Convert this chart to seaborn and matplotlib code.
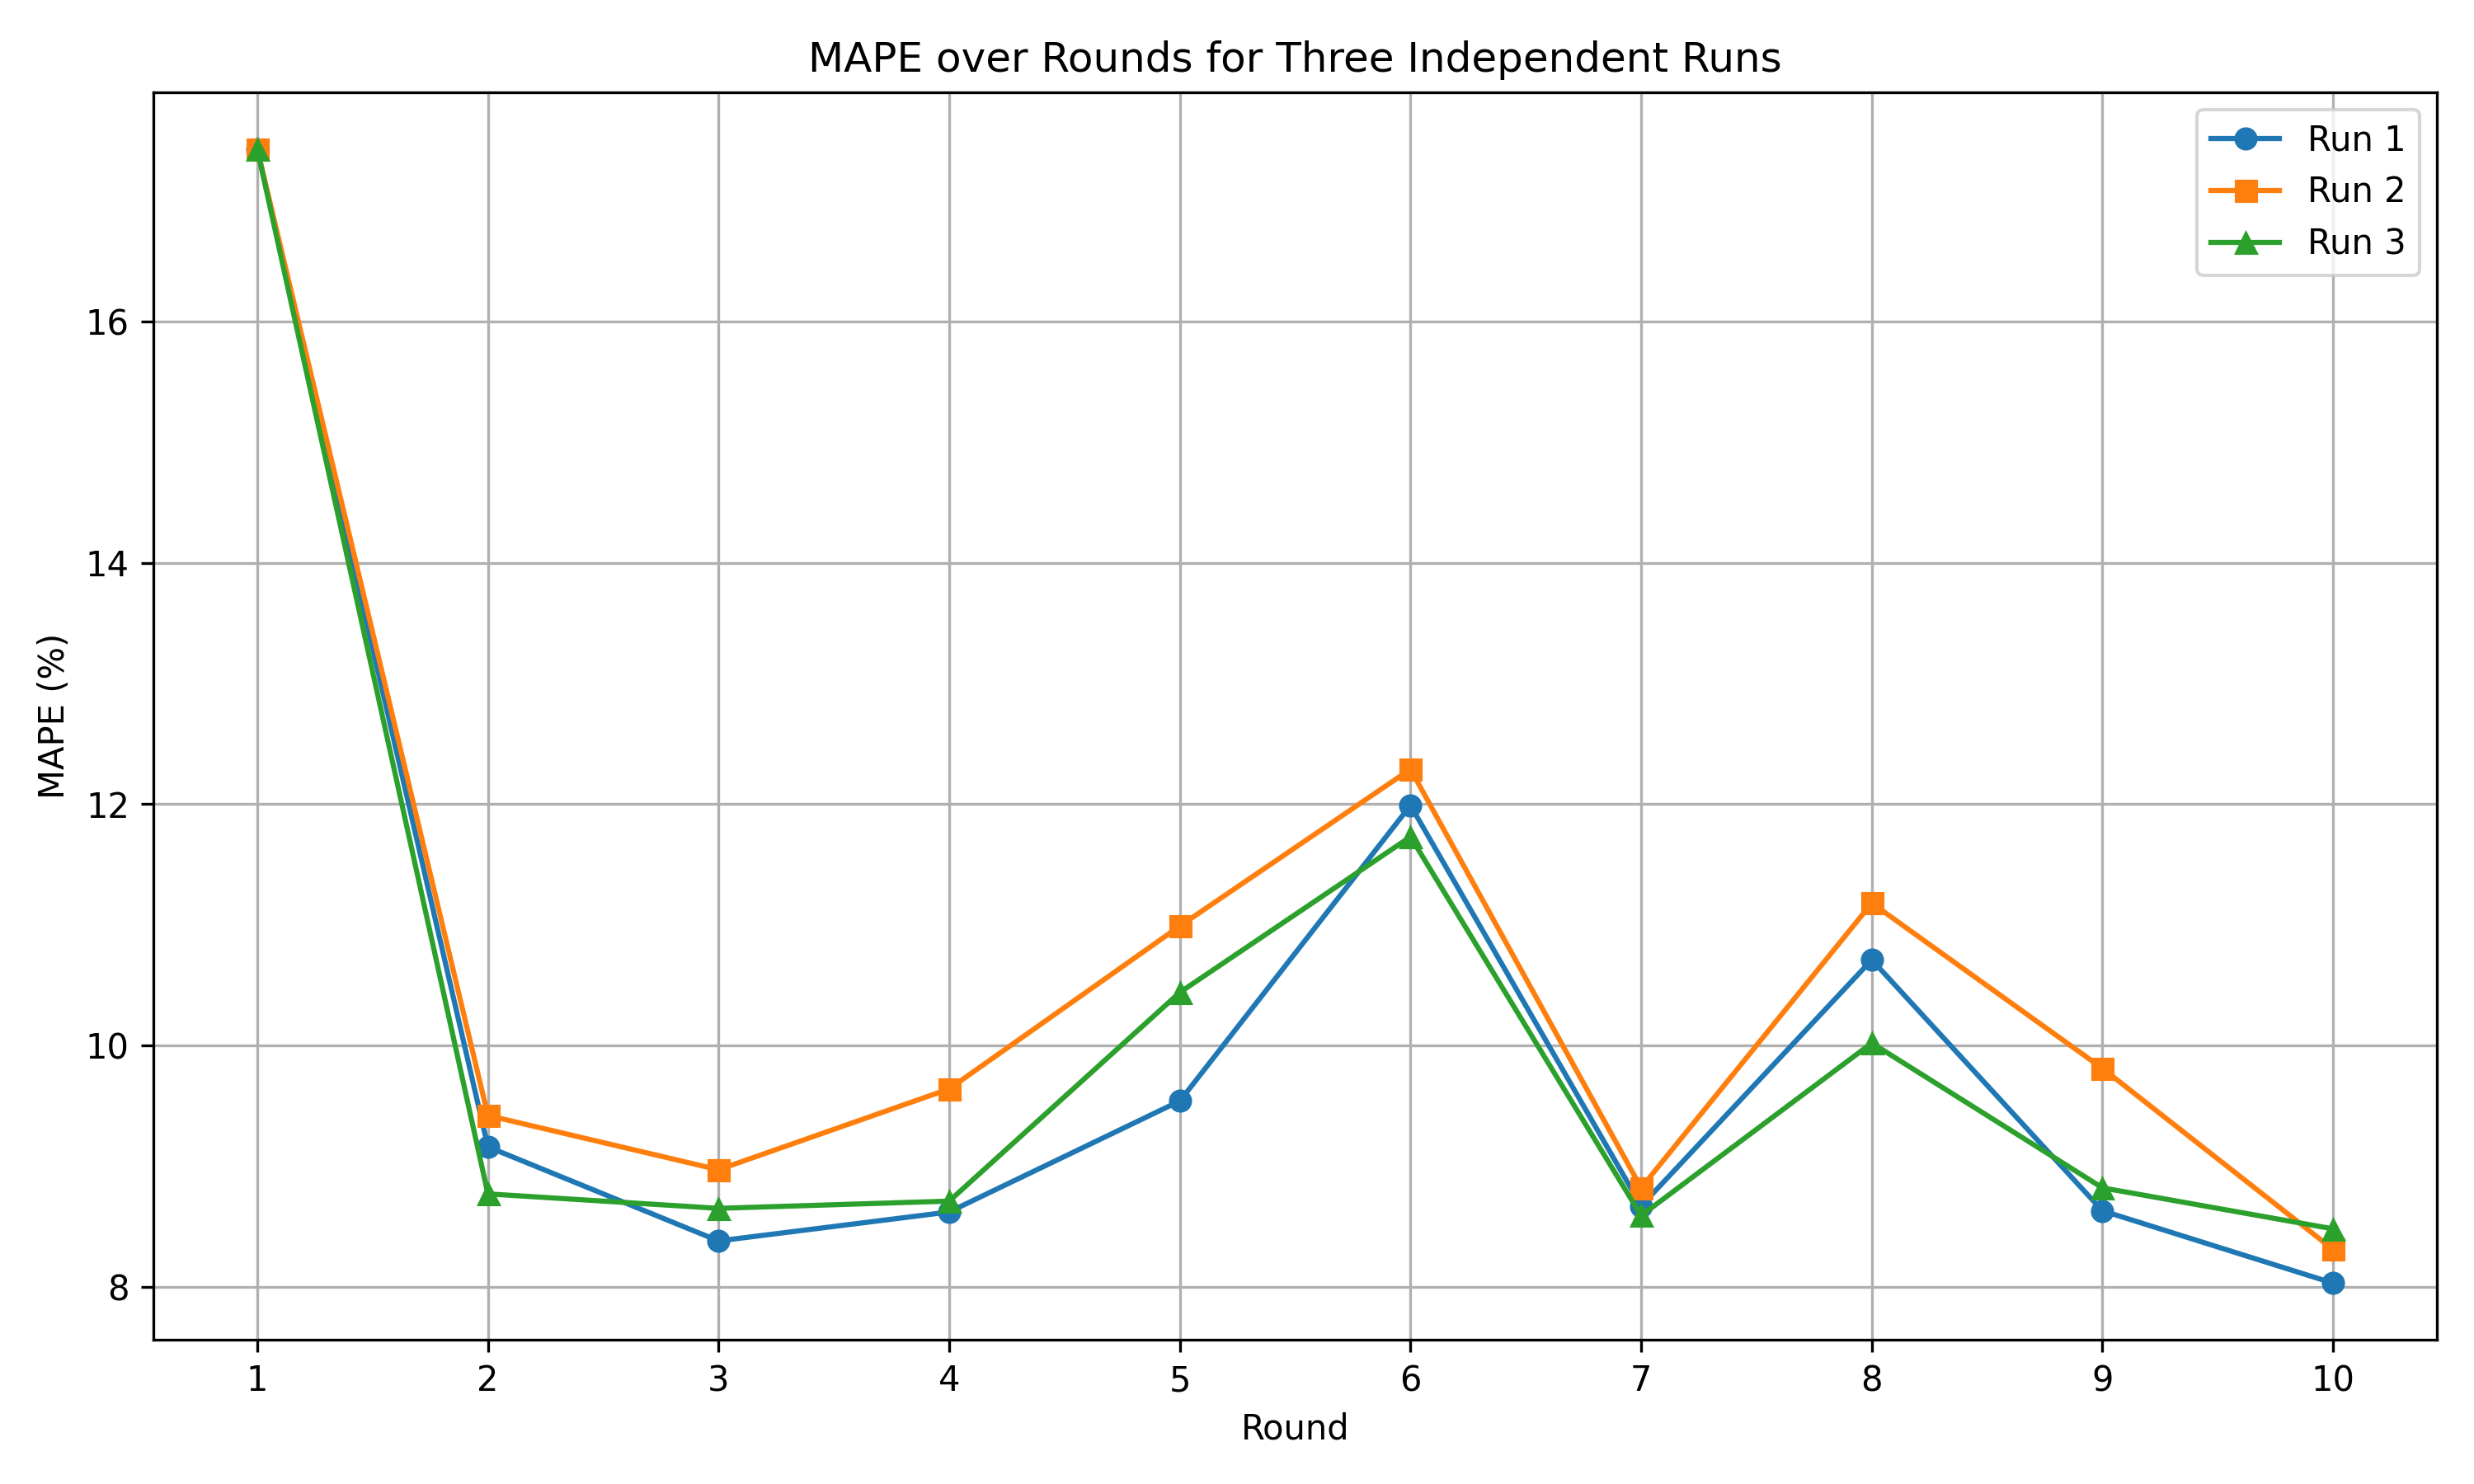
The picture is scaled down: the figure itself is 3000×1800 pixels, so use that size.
import matplotlib.pyplot as plt
import seaborn as sns

rounds = [1, 2, 3, 4, 5, 6, 7, 8, 9, 10]
run1 = [17.43, 9.16, 8.38, 8.62, 9.54, 11.99, 8.67, 10.71, 8.63, 8.03]
run2 = [17.43, 9.42, 8.97, 9.64, 10.99, 12.29, 8.82, 11.18, 9.81, 8.31]
run3 = [17.43, 8.77, 8.65, 8.71, 10.44, 11.73, 8.59, 10.02, 8.82, 8.48]

run_labels = ["Run 1", "Run 2", "Run 3"]
markers = ["o", "s", "^"]
colors = ["#1f77b4", "#ff7f0e", "#2ca02c"]

fig, ax = plt.subplots(figsize=(10, 6))

for values, label, marker, color in zip([run1, run2, run3], run_labels, markers, colors):
    sns.lineplot(x=rounds, y=values, marker=marker, label=label, color=color,
                 markersize=6, markeredgecolor=color, linewidth=1.5, ax=ax)

ax.set_title("MAPE over Rounds for Three Independent Runs")
ax.set_xlabel("Round")
ax.set_ylabel("MAPE (%)")
ax.set_xticks(rounds)
ax.grid(True)
ax.legend(loc="upper right")

plt.tight_layout()
plt.savefig("out.png", dpi=300)
